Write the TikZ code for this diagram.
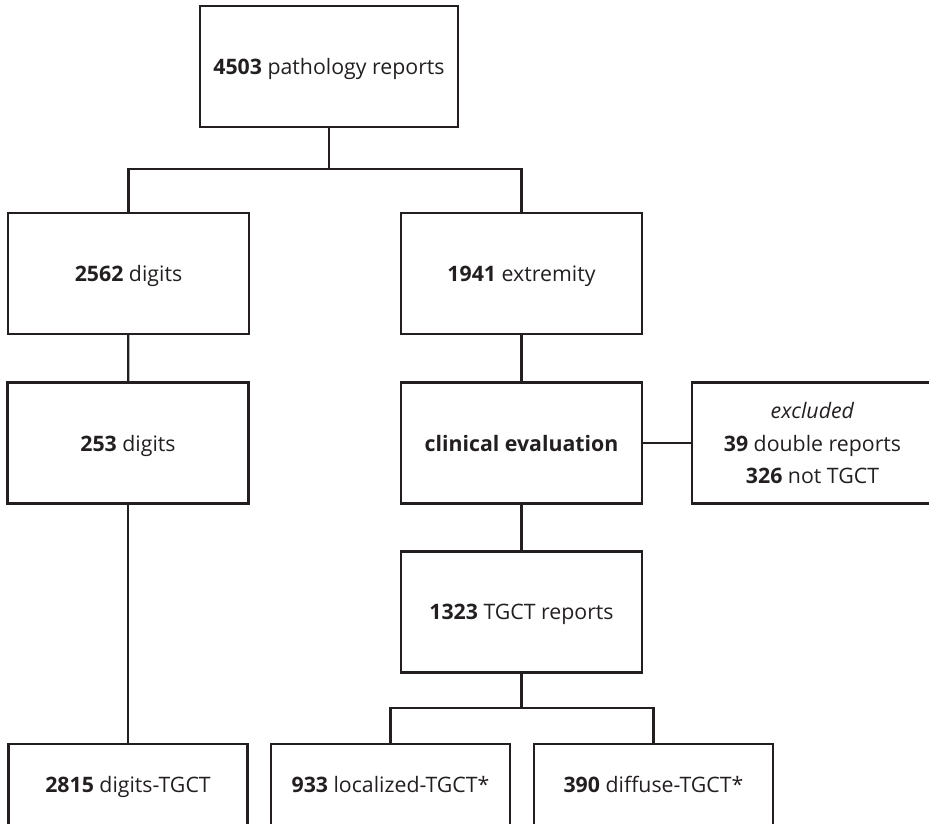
\documentclass[tikz,border=0pt]{standalone}
\usepackage{fontspec}
\setmainfont{Open Sans}
\definecolor{ink}{HTML}{231F20}
\begin{document}
\begin{tikzpicture}[x=1pt,y=-1pt,
  box/.style={draw=ink, line width=2.3pt, text=ink, minimum width=241pt, minimum height=121pt,
    inner sep=0pt, outer sep=0pt, align=center, text depth=0pt,
    font=\fontsize{21.3}{32.5}\selectfont},
  lowbox/.style={box, minimum width=239pt, minimum height=81pt},
  link/.style={draw=ink, line width=2.3pt}]
\useasboundingbox (0,0) rectangle (929,824);
\node[box, minimum width=258pt] (top) at (329,66.5) {\textbf{4503} pathology reports};
\node[box] (d1) at (128.5,273.5) {\textbf{2562} digits};
\node[box] (e1) at (521.5,273.5) {\textbf{1941} extremity};
\node[box] (d2) at (128,443) {\textbf{253} digits};
\node[box] (clin) at (521.5,443) {\textbf{clinical evaluation}};
\node[box] (excl) at (812.5,443) {\textit{excluded}\\\textbf{39} double reports\\\textbf{326} not TGCT};
\node[box] (tgct) at (521.5,612) {\textbf{1323} TGCT reports};
\node[lowbox] (d3) at (128,784.5) {\textbf{2815} digits-TGCT};
\node[lowbox] (loc) at (390.5,784.5) {\textbf{933} localized-TGCT*};
\node[lowbox] (dif) at (653.5,784.5) {\textbf{390} diffuse-TGCT*};
\coordinate (j1) at (329,169);
\coordinate (j2) at (521.5,708);
\draw[link] (top.south) -- (j1);
\draw[link] (d1.north) |- (j1) -| (e1.north);
\draw[link] (d1) -- (d2);
\draw[link] (e1) -- (clin);
\draw[link] (clin) -- (excl);
\draw[link] (clin) -- (tgct);
\draw[link] (d2) -- (d3);
\draw[link] (tgct.south) -- (j2);
\draw[link] (loc.north) |- (j2) -| (dif.north);
\end{tikzpicture}
\end{document}
